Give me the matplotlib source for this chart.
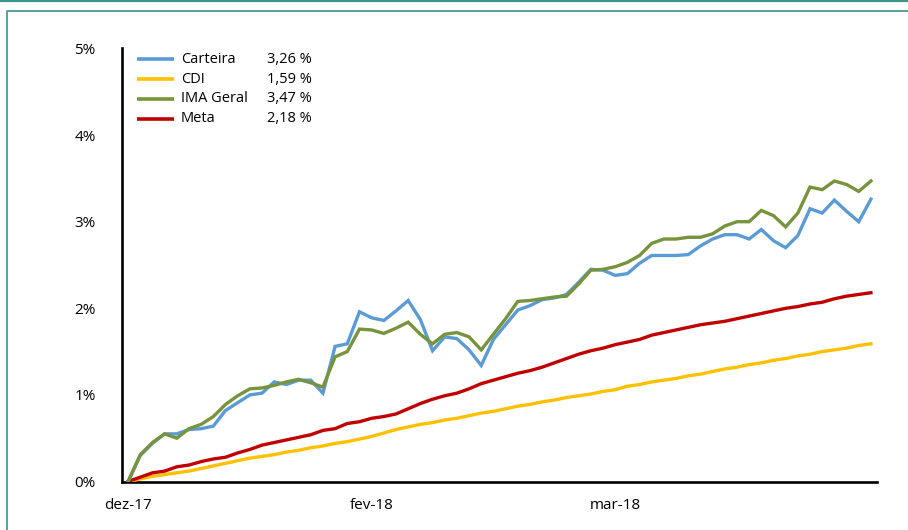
import matplotlib
matplotlib.use("Agg")
import matplotlib.pyplot as plt
from matplotlib.lines import Line2D

plt.rcParams['font.family'] = ['Open Sans', 'DejaVu Sans']

# ---- data (cumulative return, %) ----
x_labels = ["dez-17", "fev-18", "mar-18"]
x_label_pos = [0, 20, 40]
y_ticks = [0, 1, 2, 3, 4, 5]
y_tick_labels = ["0%", "1%", "2%", "3%", "4%", "5%"]

carteira = [0, 0.30, 0.44, 0.55, 0.55, 0.60, 0.61, 0.64, 0.82, 0.91,
            1.00, 1.02, 1.15, 1.12, 1.17, 1.17, 1.02, 1.56, 1.59, 1.96,
            1.89, 1.86, 1.97, 2.09, 1.87, 1.51, 1.67, 1.65, 1.52, 1.34,
            1.64, 1.81, 1.98, 2.03, 2.10, 2.12, 2.16, 2.30, 2.45, 2.44,
            2.38, 2.40, 2.52, 2.61, 2.61, 2.61, 2.62, 2.72, 2.80, 2.85,
            2.85, 2.80, 2.91, 2.78, 2.70, 2.84, 3.15, 3.10, 3.25, 3.12,
            3.00, 3.26]
cdi = [0, 0.03, 0.06, 0.08, 0.10, 0.12, 0.15, 0.18, 0.21, 0.24,
       0.27, 0.29, 0.31, 0.34, 0.36, 0.39, 0.41, 0.44, 0.46, 0.49,
       0.52, 0.56, 0.60, 0.63, 0.66, 0.68, 0.71, 0.73, 0.76, 0.79,
       0.81, 0.84, 0.87, 0.89, 0.92, 0.94, 0.97, 0.99, 1.01, 1.04,
       1.06, 1.10, 1.12, 1.15, 1.17, 1.19, 1.22, 1.24, 1.27, 1.30,
       1.32, 1.35, 1.37, 1.40, 1.42, 1.45, 1.47, 1.50, 1.52, 1.54,
       1.57, 1.59]
ima_geral = [0, 0.31, 0.45, 0.55, 0.50, 0.61, 0.66, 0.75, 0.89, 0.99,
             1.07, 1.08, 1.11, 1.15, 1.18, 1.14, 1.09, 1.44, 1.50, 1.76,
             1.75, 1.71, 1.77, 1.84, 1.70, 1.59, 1.70, 1.72, 1.67, 1.52,
             1.70, 1.88, 2.08, 2.09, 2.11, 2.13, 2.14, 2.28, 2.44, 2.45,
             2.48, 2.53, 2.61, 2.75, 2.80, 2.80, 2.82, 2.82, 2.86, 2.95,
             3.00, 3.00, 3.13, 3.07, 2.94, 3.10, 3.40, 3.37, 3.47, 3.43,
             3.35, 3.47]
meta = [0, 0.05, 0.10, 0.12, 0.17, 0.19, 0.23, 0.26, 0.28, 0.33,
        0.37, 0.42, 0.45, 0.48, 0.51, 0.54, 0.59, 0.61, 0.67, 0.69,
        0.73, 0.75, 0.78, 0.84, 0.90, 0.95, 0.99, 1.02, 1.07, 1.13,
        1.17, 1.21, 1.25, 1.28, 1.32, 1.37, 1.42, 1.47, 1.51, 1.54,
        1.58, 1.61, 1.64, 1.69, 1.72, 1.75, 1.78, 1.81, 1.83, 1.85,
        1.88, 1.91, 1.94, 1.97, 2.00, 2.02, 2.05, 2.07, 2.11, 2.14,
        2.16, 2.18]

series_names = ["Carteira", "CDI", "IMA Geral", "Meta"]
series_values = ["3,26 %", "1,59 %", "3,47 %", "2,18 %"]
series_data = [carteira, cdi, ima_geral, meta]
colors = ["#5B9BD5", "#FFC000", "#77933C", "#C00000"]

W, H = 908, 530
fig = plt.figure(figsize=(W / 100, H / 100), dpi=100)
fig.patch.set_facecolor("white")

# teal frame
teal = "#3A9488"
fig.add_artist(Line2D([0, 1], [1 - 1 / H, 1 - 1 / H], transform=fig.transFigure,
                      color=teal, lw=1.6))
fig.add_artist(Line2D([7 / W, 7 / W, 1.0], [0, 1 - 11 / H, 1 - 11 / H],
                      transform=fig.transFigure, color=teal, lw=1.2))

ax = fig.add_axes([122 / W, 1 - 481.5 / H, (877 - 122) / W, (481.5 - 48.5) / H])
n = len(carteira)
xs = list(range(n))
# draw order: CDI, Meta, Carteira, IMA on top
for idx in [1, 3, 0, 2]:
    ax.plot(xs, series_data[idx], color=colors[idx], lw=2.4, solid_joinstyle="miter",
            zorder=3)

ax.set_xlim(-0.5, n - 0.5)
ax.set_ylim(0, 5)
ax.set_yticks(y_ticks)
ax.set_yticklabels(y_tick_labels)
ax.set_xticks(x_label_pos)
ax.set_xticklabels(x_labels)
ax.tick_params(axis="y", length=0, pad=19, labelsize=11)
ax.tick_params(axis="x", length=0, pad=12, labelsize=11)
for s in ["top", "right"]:
    ax.spines[s].set_visible(False)
for s in ["left", "bottom"]:
    ax.spines[s].set_linewidth(1.9)
    ax.spines[s].set_color("black")
ax.set_facecolor("white")

# legend (manual)
rows_y = [59.3, 79.3, 99.0, 118.5]
for i, (name, val) in enumerate(zip(series_names, series_values)):
    yy = 1 - rows_y[i] / H
    fig.add_artist(Line2D([137 / W, 174 / W], [yy, yy], transform=fig.transFigure,
                          color=colors[i], lw=2.6, solid_capstyle="butt"))
    fig.text(181 / W, yy, name, fontsize=10.5, va="center", ha="left")
    fig.text(267 / W, yy, val, fontsize=10.5, va="center", ha="left")

fig.savefig("out.png", dpi=100)
